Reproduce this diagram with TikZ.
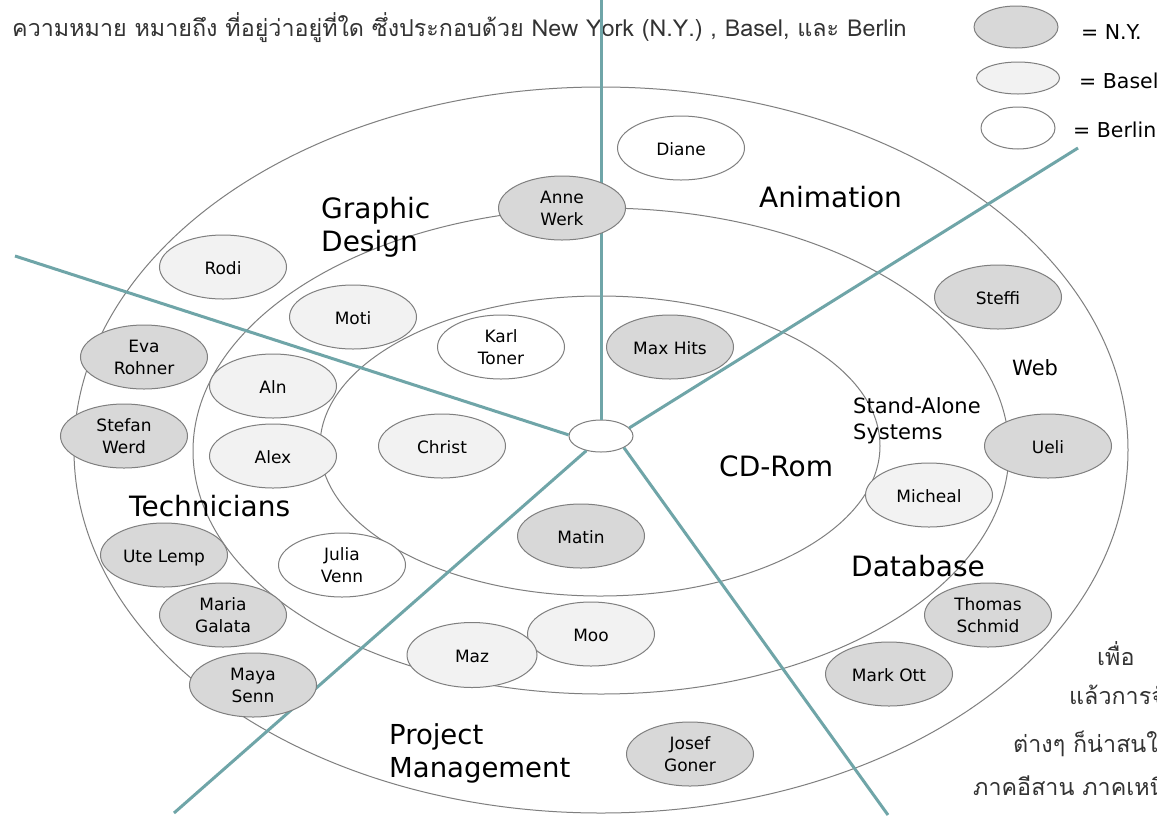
\documentclass[tikz,border=0pt]{standalone}
\usepackage{fontspec}
\setmainfont{DejaVu Sans}
\newfontfamily\thaifont[Script=Thai]{Loma}
\usetikzlibrary{shapes.geometric}
\definecolor{ringgray}{HTML}{7F7F7F}
\definecolor{spoke}{HTML}{6FA5A8}
\definecolor{nyfill}{HTML}{D8D8D8}
\definecolor{baselfill}{HTML}{F2F2F2}
\tikzset{
 x=1pt,y=-1pt,
 ring/.style={draw=ringgray,line width=1pt,fill=none},
 spokeline/.style={draw=spoke,line width=3pt},
 person/.style={ellipse,draw=ringgray,line width=1pt,minimum width=127pt,minimum height=64pt,inner sep=0pt,align=center,font=\fontsize{17}{22}\selectfont},
 one/.style={text height=14pt,text depth=0pt},
 ny/.style={person,fill=nyfill},
 basel/.style={person,fill=baselfill},
 berlin/.style={person,fill=white},
 area/.style={anchor=west,align=left,inner sep=0pt,font=\fontsize{28}{33}\selectfont},
 smallarea/.style={anchor=west,align=left,inner sep=0pt,font=\fontsize{21}{26}\selectfont},
 legendtext/.style={anchor=west,inner sep=0pt,font=\fontsize{20.5}{24}\selectfont},
 thaitext/.style={anchor=west,inner sep=0pt,font=\thaifont\fontsize{23.3}{28}\selectfont,text=black!80},
}
\begin{document}
\begin{tikzpicture}
\useasboundingbox (0,0) rectangle (1157,815);
\clip (0,0) rectangle (1157,815);
\fill[white] (0,0) rectangle (1157,815);
% rings
\draw[ring] (601,450) ellipse [x radius=527,y radius=363];
\draw[ring] (601,451) ellipse [x radius=408,y radius=243];
\draw[ring] (600,446) ellipse [x radius=280,y radius=150];
% Thai text
\node[thaitext] (head) at (12,28) {ความหมาย หมายถึง ที่อยู่ว่าอยู่ที่ใด ซึ่งประกอบด้วย New York (N.Y.) , Basel, และ Berlin};
\node[thaitext] (t1) at (1097,654) {เพื่อ};
\node[thaitext] (t2) at (1069,695) {แล้วการจั};
\node[thaitext] (t3) at (1013,744) {ต่างๆ ก็น่าสนใ};
\node[thaitext] (t4) at (973,786) {ภาคอีสาน ภาคเหนื};
% spokes
\node[ellipse,draw=ringgray,line width=1pt,fill=white,minimum width=64pt,minimum height=32pt,inner sep=0pt] (hub) at (601,436) {};
\coordinate (sTop) at (601,0);
\coordinate (sRight) at (1078,148);
\coordinate (sLeft) at (15,256);
\coordinate (sBL) at (174,813);
\coordinate (sBR) at (888,815);
\draw[spokeline] (hub.90) -- (sTop);
\draw[spokeline] (hub.16) -- (sRight);
\draw[spokeline] (hub.178) -- (sLeft);
\draw[spokeline] (hub.225) -- (sBL);
\draw[spokeline] (hub.-27) -- (sBR);
% legend
\node[ny,minimum width=84pt,minimum height=42pt] (lny) at (1016,27) {};
\node[basel,minimum width=83pt,minimum height=32pt] (lba) at (1018,78) {};
\node[berlin,minimum width=74pt,minimum height=42pt] (lbe) at (1018,128) {};
\node[legendtext] (tny) at (1081,32) {= N.Y.};
\node[legendtext] (tba) at (1079,81) {= Basel};
\node[legendtext] (tbe) at (1073,130) {= Berlin};
% people
\node[berlin,one] (diane) at (681,148) {Diane};
\node[ny] (anne) at (562,208) {Anne\\Werk};
\node[basel,one] (rodi) at (223,267) {Rodi};
\node[basel,one] (moti) at (353,317) {Moti};
\node[berlin] (karl) at (501,347) {Karl\\Toner};
\node[ny,one] (maxh) at (670,347) {Max Hits};
\node[ny,one] (steffi) at (998,297) {Steffi};
\node[ny] (eva) at (144,357) {Eva\\Rohner};
\node[basel,one] (aln) at (273,386) {Aln};
\node[ny] (stefan) at (124,436) {Stefan\\Werd};
\node[basel,one] (alex) at (273,456) {Alex};
\node[basel,one] (christ) at (442,446) {Christ};
\node[ny,one] (ueli) at (1048,446) {Ueli};
\node[basel,one] (micheal) at (929,495) {Micheal};
\node[ny,one] (matin) at (581,536) {Matin};
\node[ny,one] (ute) at (164,555) {Ute Lemp};
\node[berlin] (julia) at (342,565) {Julia\\Venn};
\node[ny] (maria) at (223,615) {Maria\\Galata};
\node[ny] (thomas) at (988,615) {Thomas\\Schmid};
\node[basel,one] (moo) at (591,634) {Moo};
\node[basel,one,minimum width=130pt,minimum height=65pt] (maz) at (472,655) {Maz};
\node[ny,one] (mark) at (889,674) {Mark Ott};
\node[ny] (maya) at (253,685) {Maya\\Senn};
\node[ny] (josef) at (690,754) {Josef\\Goner};
% areas
\node[area] (gd) at (321,227) {Graphic\\Design};
\node[area] (anim) at (759,197) {Animation};
\node[smallarea] (web) at (1012,368) {Web};
\node[smallarea] (sas) at (853,421) {Stand-Alone\\Systems};
\node[area] (cd) at (719,466) {CD-Rom};
\node[area] (db) at (851,566) {Database};
\node[area] (tech) at (129,506) {Technicians};
\node[area,font=\fontsize{27.5}{33}\selectfont] (pm) at (389,753) {Project\\Management};
\end{tikzpicture}
\end{document}
